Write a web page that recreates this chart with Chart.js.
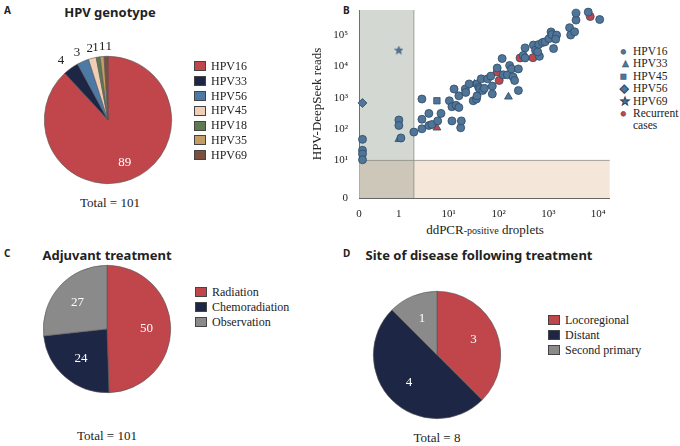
<!DOCTYPE html>
<html><head><meta charset="utf-8">
<script src="https://cdn.jsdelivr.net/npm/chart.js@4.4.1/dist/chart.umd.min.js"></script>
<style>
body{margin:0;width:680px;height:446px;background:#fff;position:relative;overflow:hidden;font-family:"Liberation Serif",serif;color:#222}
.abs{position:absolute}
.lt{font:bold 10px "Noto Sans",sans-serif}
.tt{font:bold 13px "Noto Sans",sans-serif;text-align:center}
.tot{font:13px "Liberation Serif",serif;text-align:center}
.lg div{height:14.8px;font:12px "Liberation Serif",serif;display:flex;align-items:center}
.lg span{display:inline-block;width:12px;height:10px;border:1px solid #444;margin-right:5px;box-sizing:border-box}
</style></head><body>
<div class="abs lt" style="left:4px;top:3px">A</div>
<div class="abs lt" style="left:343px;top:3px">B</div>
<div class="abs lt" style="left:4px;top:246px">C</div>
<div class="abs lt" style="left:343px;top:246px">D</div>
<div class="abs tt" style="left:40px;top:3px;width:140px">HPV genotype</div>
<div class="abs tt" style="left:27px;top:246px;width:160px">Adjuvant treatment</div>
<div class="abs tt" style="left:364px;top:246px;width:230px">Site of disease following treatment</div>
<div class="abs tot" style="left:60px;top:195px;width:100px">Total = 101</div>
<div class="abs tot" style="left:57px;top:428px;width:100px">Total = 101</div>
<div class="abs tot" style="left:387px;top:430px;width:100px">Total = 8</div>
<div class="abs" style="left:360px;top:222px;width:250px;text-align:center;font:13px 'Liberation Serif',serif">ddPCR<span style="font-size:10px">-positive</span> droplets</div>

<div class="abs" style="left:18px;top:30px;width:180px;height:180px"><canvas id="a" width="180" height="180" style="width:180px;height:180px"></canvas></div>
<div class="abs" style="left:37px;top:259px;width:140px;height:140px"><canvas id="c" width="140" height="140" style="width:140px;height:140px"></canvas></div>
<div class="abs" style="left:367px;top:285px;width:140px;height:140px"><canvas id="d" width="140" height="140" style="width:140px;height:140px"></canvas></div>
<div class="abs" style="left:310px;top:0px;width:305px;height:245px"><canvas id="b" width="305" height="245" style="width:305px;height:245px"></canvas></div>

<div class="abs lg" id="lga" style="left:194px;top:59px"></div>
<div class="abs lg" id="lgc" style="left:195px;top:285px"></div>
<div class="abs lg" id="lgd" style="left:548px;top:313px"></div>
<div class="abs lg" id="lgb" style="left:620px;top:45px"></div>

<script>
// ---- Data ----
const genoLabels=["HPV16","HPV33","HPV56","HPV45","HPV18","HPV35","HPV69"];
const genoCounts=[89,4,3,2,1,1,1];
const genoColors=["#c0464b","#1e2646","#4d79a6","#f1cdb6","#5d7b4f","#c49c66","#7b4f3c"];
const adjLabels=["Radiation","Chemoradiation","Observation"];
const adjCounts=[50,24,27];
const siteLabels=["Locoregional","Distant","Second primary"];
const siteCounts=[3,4,1];
const threeColors=["#c0464b","#1e2646","#8a8a8a"];

// scatter: [ddPCR droplets, reads]
const hpv16=[[0,47],[0,21],[0,16],[0,10.5],[1,195],[1,130],[1.1,52],[2,80],[2.9,910],[2.9,102],[2.9,205],[4,316],[4,130],[4.6,140],[6,182],[7,316],[10.3,800],[11.6,515],[12.8,1900],[11.6,182],[14,575],[16,490],[16,1150],[17.4,110],[17.9,182],[21.5,1900],[22,1480],[25.7,2750],[31,800],[36,910],[37,1150],[37,2750],[40,2130],[42,1900],[45,4000],[48,1700],[52,2000],[60,4000],[70,4900],[75,2350],[75,1320],[94,8900],[118,17800],[124,5400],[150,5400],[167,10700],[182,8300],[196,4600],[210,3550],[250,8300],[250,1700],[313,22400],[340,39000],[340,18600],[500,48000],[550,33000],[640,50000],[660,21000],[765,58000],[860,61000],[1030,77000],[1130,126000],[1180,104000],[1270,37000],[1460,100000],[2660,172000],[2800,100000],[3360,127000],[3580,300000],[3580,500000],[6300,540000],[10700,313000],[610,29000],[1400,74000]];
const hpv33=[[1,47],[33,2750],[158,1070]];
const hpv45=[[5.8,800]];
const hpv56=[[0,680]];
const hpv69=[[1,33000]];
const recurrentCircle=[[270,18600],[490,18900],[94,6600],[103,3550],[6900,390000]];
const recurrentTriangle=[[5.8,110]];
const xTickVals=[0,1,10,100,1000,10000];
const xTickText=["0","1","10¹","10²","10³","10⁴"];
const yTickVals=[0,10,100,1000,10000,100000];
const yTickText=["0","10¹","10²","10³","10⁴","10⁵"];
const dropletCut=2, readCut=10;

// mapping (0 shown apart, then log decades)
const ux=v=>v===0?0.07:0.8+Math.log10(v);
const uy=v=>v===0?0:0.2+Math.log10(v);
const tx=v=>v===0?0:0.8+Math.log10(v);
const pts=a=>a.map(p=>({x:ux(p[0]),y:uy(p[1])}));

// ---- pies ----
const font="'Liberation Serif', serif";
function valuePlugin(inner,outerSmall){return{id:'vals',afterDatasetsDraw(ch){
  const ctx=ch.ctx,meta=ch.getDatasetMeta(0);ctx.save();
  meta.data.forEach((arc,i)=>{const v=ch.data.datasets[0].data[i];
    const a=(arc.startAngle+arc.endAngle)/2;let r,col;
    if(outerSmall&&i>0){r=arc.outerRadius+10;col="#222";}else{r=arc.outerRadius*inner;col="#fff";}
    ctx.fillStyle=col;ctx.font="13px "+font;ctx.textAlign="center";ctx.textBaseline="middle";
    let x=arc.x+Math.cos(a)*r,y=arc.y+Math.sin(a)*r;
    if(outerSmall&&i>0){x+=[0,-4,-2,0,-1,1,3][i];}
    ctx.fillText(v,x,y);});ctx.restore();}};}
function pie(id,data,colors,plug,labels,lg,pad){
  new Chart(document.getElementById(id),{type:'pie',data:{labels,datasets:[{data,backgroundColor:colors,borderColor:"#555",borderWidth:0.6}]},
  options:{responsive:false,animation:false,layout:{padding:pad},plugins:{legend:{display:false},tooltip:{enabled:false}}},plugins:[plug]});
  document.getElementById(lg).innerHTML=labels.map((l,i)=>`<div><span style="background:${colors[i]}"></span>${l}</div>`).join('');
}
pie('a',genoCounts,genoColors,valuePlugin(0.72,true),genoLabels,'lga',26);
pie('c',adjCounts,threeColors,valuePlugin(0.62,false),adjLabels,'lgc',6);
pie('d',siteCounts,threeColors,valuePlugin(0.62,false),siteLabels,'lgd',6);

// ---- scatter ----
const blue="#4f7599",edge="#2e4a66",red="#c0464b";
// filled star marker
const star=document.createElement('canvas');star.width=9;star.height=9;
(()=>{const c=star.getContext('2d');c.beginPath();for(let i=0;i<10;i++){const r=i%2?1.7:4.2,a=-Math.PI/2+i*Math.PI/5;c.lineTo(4.5+r*Math.cos(a),4.8+r*Math.sin(a));}c.closePath();c.fillStyle=blue;c.fill();c.strokeStyle=edge;c.lineWidth=0.6;c.stroke();})();
const bands={id:'bands',beforeDatasetsDraw(ch){
  const {ctx,chartArea:c,scales:{x,y}}=ch;ctx.save();
  const xc=x.getPixelForValue(tx(dropletCut)),yc=y.getPixelForValue(uy(readCut));
  ctx.fillStyle="rgba(242,222,205,0.75)";ctx.fillRect(c.left,yc,c.right-c.left,c.bottom-yc);
  ctx.fillStyle="rgba(120,138,118,0.33)";ctx.fillRect(c.left,c.top,xc-c.left,c.bottom-c.top);
  ctx.strokeStyle="#8a8a80";ctx.lineWidth=0.8;ctx.beginPath();
  ctx.moveTo(xc,c.top);ctx.lineTo(xc,c.bottom);ctx.moveTo(c.left,yc);ctx.lineTo(c.right,yc);ctx.stroke();ctx.restore();}};
const ds=(label,d,style,color,r)=>({label,data:pts(d),pointStyle:style,backgroundColor:color,borderColor:edge,borderWidth:0.8,pointRadius:r,clip:false});
new Chart(document.getElementById('b'),{type:'scatter',
 data:{datasets:[ds("HPV16",hpv16,'circle',blue,4),ds("HPV33",hpv33,'triangle',blue,4.5),ds("HPV45",hpv45,'rect',blue,4.5),
  ds("HPV56",hpv56,'rectRot',blue,4.5),ds("HPV69",hpv69,star,blue,4),ds("Recurrent cases",recurrentCircle,'circle',red,4),ds("",recurrentTriangle,'triangle',red,4.5)]},
 options:{responsive:false,animation:false,layout:{padding:{top:10,right:4}},
  plugins:{legend:{display:false},tooltip:{enabled:false}},
  scales:{
   x:{type:'linear',min:0,max:5.03,grid:{display:false},border:{color:"#666"},
     afterBuildTicks:s=>{s.ticks=xTickVals.map(v=>({value:tx(v)}));},
     afterFit:s=>{s.height=47;},
     ticks:{font:{family:font,size:11},color:"#222",padding:2,maxRotation:0,autoSkip:false,callback:(v,i)=>xTickText[i]}},
   y:{type:'linear',min:0,max:6.0,grid:{display:false},border:{color:"#666"},
     afterBuildTicks:s=>{s.ticks=yTickVals.map(v=>({value:uy(v)}));},
     afterFit:s=>{s.width=49;},
     title:{display:true,text:"HPV-DeepSeek reads",font:{family:font,size:13},color:"#222",padding:0},
     ticks:{font:{family:font,size:11},color:"#222",padding:3,autoSkip:false,callback:(v,i)=>yTickText[i]}}}},
 plugins:[bands]});
const lgItems=[["HPV16","●",blue],["HPV33","▲",blue],["HPV45","■",blue],["HPV56","◆",blue],["HPV69","★",blue],["Recurrent<br>cases","●",red]];
document.getElementById('lgb').innerHTML=lgItems.map(it=>`<div style="height:auto;min-height:12.4px;align-items:flex-start;font-size:11.5px;line-height:12.4px"><b style="color:${it[2]};width:13px;font-size:11px;-webkit-text-stroke:0.5px ${edge}">${it[1]}</b>${it[0]}</div>`).join('');
</script></body></html>
